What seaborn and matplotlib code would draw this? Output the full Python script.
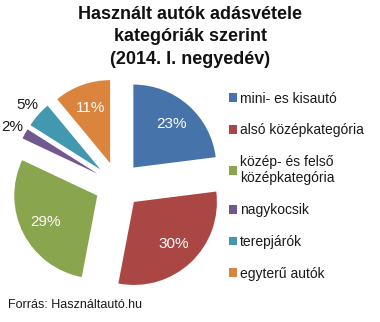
import numpy as np
import matplotlib
matplotlib.use("Agg")
import matplotlib.pyplot as plt
import seaborn as sns
from matplotlib.patches import Patch

categories = ["mini- es kisautó", "alsó középkategória", "közép- és felső\nközépkategória",
              "nagykocsik", "terepjárók", "egyterű autók"]
values = [23, 30, 29, 2, 5, 11]
colors = ["#4674AA", "#AA4643", "#89A54E", "#71588F", "#4198AF", "#DB843D"]
title = "Használt autók adásvétele\nkategóriák szerint\n(2014. I. negyedév)"
source = "Forrás: Használtautó.hu"

sns.set_theme(style="white")
plt.rcParams['font.family'] = ['Liberation Sans', 'DejaVu Sans']

W, H = 380, 322
fig = plt.figure(figsize=(W / 100, H / 100), dpi=100)
fig.patch.set_facecolor("white")

cx, cy, half = 118, 185, 106
ax = fig.add_axes([(cx - half) / W, (H - cy - half) / H, 2 * half / W, 2 * half / H])
R = 83 / 106 * 1.25
ex = 0.28
wedges, texts, autotexts = ax.pie(
    values, colors=colors, startangle=90, counterclock=False, radius=R,
    explode=[ex * R] * len(values), autopct="%d%%", pctdistance=0.7,
    textprops=dict(fontsize=11, color="white"),
    wedgeprops=dict(linewidth=0))
for w, t, v in zip(wedges, autotexts, values):
    if v < 6:
        ang = np.deg2rad((w.theta1 + w.theta2) / 2)
        d = (ex + 1.18) * R
        t.set_position((d * np.cos(ang), d * np.sin(ang)))
        t.set_color("#1a1a1a")
ax.set_xlim(-1.25, 1.25)
ax.set_ylim(-1.25, 1.25)
ax.set_aspect("equal")
ax.axis("off")

fig.text(190 / W, 1 - 6 / H, title, ha="center", va="top", fontsize=13,
         fontweight="bold", linespacing=1.42, color="#111111")

handles = [Patch(facecolor=c, edgecolor="none") for c in colors]
leg = fig.legend(handles, categories, loc="upper left", bbox_to_anchor=(223 / W, 1 - 86 / H),
                 frameon=False, fontsize=10, handlelength=0.6, handleheight=0.6,
                 handletextpad=0.2, labelspacing=1.28, borderaxespad=0)
for t in leg.get_texts():
    t.set_color("#1a1a1a")

fig.text(8 / W, 1 - 305 / H, source, ha="left", va="center", fontsize=9, color="#1a1a1a")

fig.savefig("out.png", dpi=100, facecolor="white")
